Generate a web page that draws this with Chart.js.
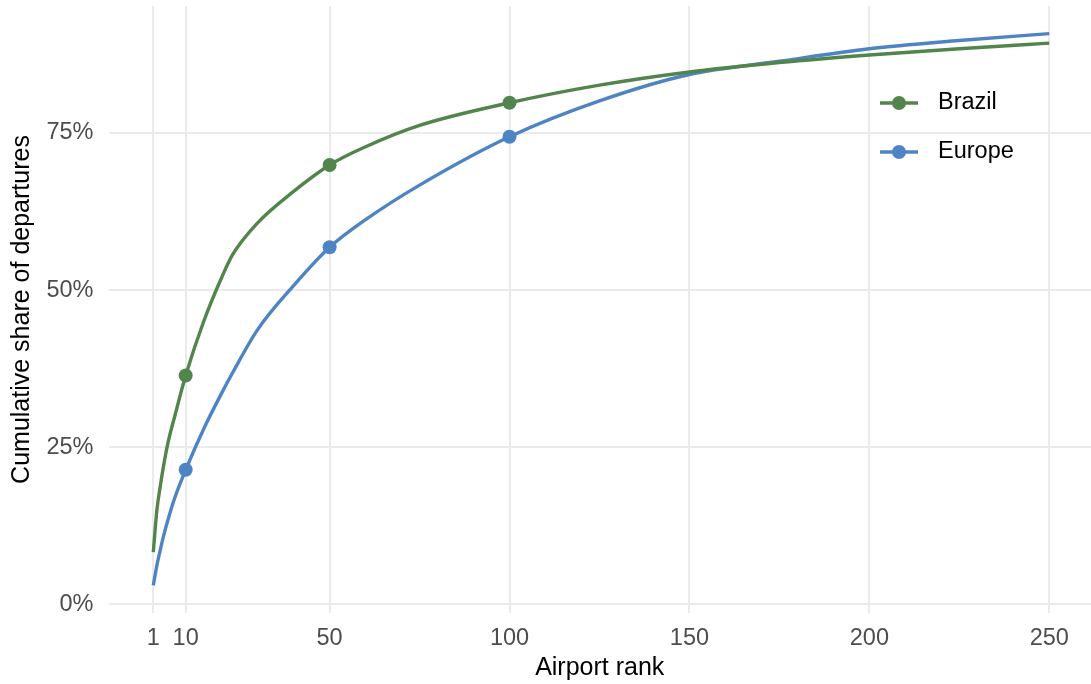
<!DOCTYPE html>
<html>
<head>
<meta charset="utf-8">
<script src="https://cdn.jsdelivr.net/npm/chart.js@4.4.1/dist/chart.umd.min.js"></script>
<style>
  html, body { margin: 0; padding: 0; background: #fff; overflow: hidden; }
  canvas { display: block; }
</style>
</head>
<body>
<canvas id="chart" width="1091" height="684"></canvas>
<script>
// airport rank vs cumulative share of departures
const ranks = [1, 2, 3, 4, 5, 7, 10, 15, 20, 23, 30, 40, 50, 60, 75, 100, 125, 150, 175, 200, 225, 250];
const brazilShare = [0.083, 0.15, 0.19, 0.225, 0.255, 0.30, 0.364, 0.45, 0.52, 0.556, 0.607, 0.657, 0.699, 0.728, 0.762, 0.798, 0.826, 0.847, 0.862, 0.874, 0.884, 0.893];
const europeShare = [0.03, 0.062, 0.088, 0.112, 0.133, 0.17, 0.214, 0.279, 0.336, 0.368, 0.437, 0.507, 0.568, 0.612, 0.667, 0.744, 0.801, 0.843, 0.864, 0.884, 0.897, 0.908];
const markedRanks = [10, 50, 100];
const xTicks = [1, 10, 50, 100, 150, 200, 250];
const yTicks = [0, 0.25, 0.5, 0.75];

const FONT = '"Liberation Sans", Arial, sans-serif';
const GRID = '#ebebeb';

function toPoints(values) {
  return ranks.map((r, i) => ({ x: r, y: values[i] }));
}

function markerRadius(ctx) {
  return ctx.raw && markedRanks.includes(ctx.raw.x) ? 7 : 0;
}

/* legend drawn inside the plot, top right */
const insideLegend = {
  id: 'insideLegend',
  afterDatasetsDraw(chart) {
    const ctx = chart.ctx;
    chart.data.datasets.forEach((ds, i) => {
      const y = 103 + i * 49;
      ctx.save();
      ctx.strokeStyle = ds.borderColor;
      ctx.lineWidth = ds.borderWidth;
      ctx.beginPath();
      ctx.moveTo(880, y);
      ctx.lineTo(918, y);
      ctx.stroke();
      ctx.fillStyle = ds.borderColor;
      ctx.beginPath();
      ctx.arc(899, y, 7, 0, Math.PI * 2);
      ctx.fill();
      ctx.fillStyle = '#000';
      ctx.font = '23.5px ' + FONT;
      ctx.textBaseline = 'middle';
      ctx.textAlign = 'left';
      ctx.fillText(ds.label, 938, y);
      ctx.restore();
    });
  }
};

function noScalePadding(scale) {
  scale.paddingTop = 0;
  scale.paddingBottom = 0;
  scale.paddingLeft = 0;
  scale.paddingRight = 0;
}

var ctx = document.getElementById('chart').getContext('2d');
var chart = new Chart(ctx, {
  type: 'line',
  data: {
    datasets: [{
      label: 'Brazil',
      data: toPoints(brazilShare),
      borderColor: '#52854C',
      backgroundColor: '#52854C',
      borderWidth: 3.4,
      cubicInterpolationMode: 'monotone',
      pointRadius: markerRadius,
      pointHoverRadius: markerRadius,
      pointBorderWidth: 0
    }, {
      label: 'Europe',
      data: toPoints(europeShare),
      borderColor: '#4E84C4',
      backgroundColor: '#4E84C4',
      borderWidth: 3.4,
      cubicInterpolationMode: 'monotone',
      pointRadius: markerRadius,
      pointHoverRadius: markerRadius,
      pointBorderWidth: 0
    }]
  },
  options: {
    responsive: false,
    animation: false,
    layout: { padding: { top: 6, right: 0, left: 0, bottom: 0 } },
    plugins: {
      legend: { display: false },
      tooltip: { enabled: false }
    },
    scales: {
      x: {
        type: 'linear',
        min: -11.45,
        max: 261.6,
        afterBuildTicks: (scale) => { scale.ticks = xTicks.map(v => ({ value: v })); },
        afterFit: (scale) => { scale.height = 71; noScalePadding(scale); },
        grid: { color: GRID, lineWidth: 2, drawTicks: false },
        border: { display: false },
        ticks: {
          padding: 11,
          maxRotation: 0,
          autoSkip: false,
          color: '#4d4d4d',
          font: { family: FONT, size: 23.5 },
          callback: (v) => String(v)
        },
        title: {
          display: true,
          text: 'Airport rank',
          color: '#000',
          font: { family: FONT, size: 25 },
          padding: { top: 1, bottom: 1 }
        }
      },
      y: {
        type: 'linear',
        min: -0.0139,
        max: 0.952,
        afterBuildTicks: (scale) => { scale.ticks = yTicks.map(v => ({ value: v })); },
        afterFit: (scale) => { scale.width = 108.5; noScalePadding(scale); },
        grid: { color: GRID, lineWidth: 2, drawTicks: false },
        border: { display: false },
        ticks: {
          padding: 15,
          color: '#4d4d4d',
          font: { family: FONT, size: 23.5 },
          callback: (v) => Math.round(v * 100) + '%'
        },
        title: {
          display: true,
          text: 'Cumulative share of departures',
          color: '#000',
          font: { family: FONT, size: 25 },
          padding: { top: 7, bottom: 0 }
        }
      }
    }
  },
  plugins: [insideLegend]
});
</script>
</body>
</html>
